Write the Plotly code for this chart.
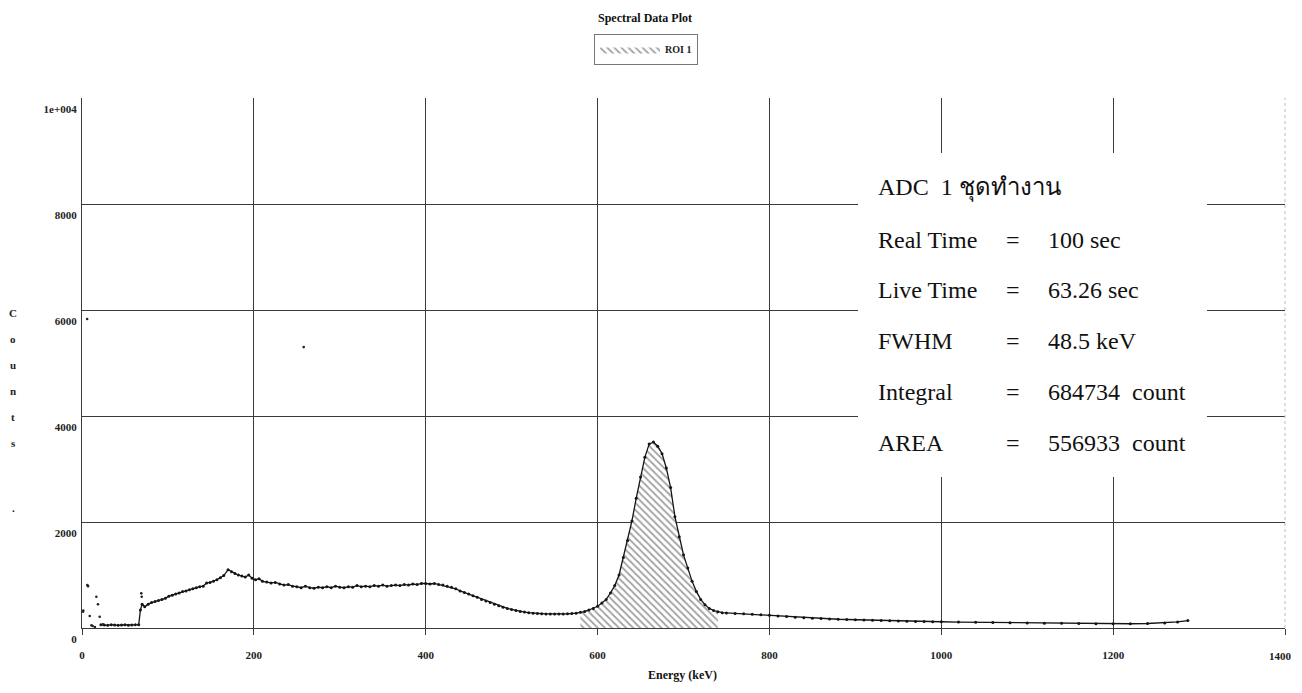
import plotly.graph_objects as go

# ---------------- data ----------------
energy_kev = [22, 26, 30, 34, 38, 42, 46, 50, 54, 58, 62, 66,
              68, 70, 73, 77, 81, 85, 89, 93, 97, 101, 105, 109, 113, 117, 121, 125,
              129, 133, 137, 141, 145, 149, 153, 157, 161, 165, 170, 174, 178, 182,
              186, 190, 194, 198, 202, 206, 210, 215, 220, 225, 230, 235, 240, 245,
              250, 255, 260, 265, 270, 275, 280, 285, 290, 295, 300, 305, 310, 315,
              320, 325, 330, 335, 340, 345, 350, 355, 360, 365, 370, 375, 380, 385,
              390, 395, 400, 405, 410, 415, 420, 425, 430, 435, 440, 445, 450, 455,
              460, 465, 470, 475, 480, 485, 490, 495, 500, 505, 510, 515, 520, 525,
              530, 535, 540, 545, 550, 555, 560, 565, 570, 575, 580, 585, 590, 595,
              600, 605, 610, 615, 620, 625, 630, 635, 640, 645, 650, 655, 660, 665,
              670, 675, 680, 685, 690, 695, 700, 705, 710, 715, 720, 725, 730, 735,
              740, 745, 750, 760, 770, 780, 790, 800, 810, 820, 830, 840, 850, 860,
              870, 880, 890, 900, 910, 920, 930, 940, 950, 960, 970, 980, 990, 1000,
              1020, 1040, 1060, 1080, 1100, 1120, 1140, 1160, 1180, 1200, 1220, 1240,
              1260, 1275, 1287]
counts = [60, 55, 50, 62, 55, 50, 57, 60, 50, 56, 60, 62,
          340, 450, 400, 450, 480, 500, 520, 540, 560, 600, 620, 640, 660, 690, 700, 720,
          740, 760, 780, 790, 850, 860, 880, 910, 950, 990, 1100, 1060, 1030, 1000,
          980, 960, 1000, 940, 910, 930, 880, 870, 850, 860, 830, 810, 820, 790,
          780, 760, 790, 760, 750, 770, 760, 780, 760, 790, 770, 760, 780, 770,
          800, 780, 790, 780, 800, 790, 810, 790, 800, 810, 800, 820, 810, 830,
          820, 840, 840, 830, 840, 820, 810, 790, 770, 740, 700, 670, 640, 610,
          580, 540, 510, 480, 450, 420, 390, 370, 350, 330, 310, 300, 290, 280,
          275, 270, 265, 262, 262, 263, 265, 268, 272, 280, 295, 310, 340, 370,
          410, 470, 540, 660, 800, 1000, 1330, 1650, 2020, 2450, 2850, 3220, 3470, 3510,
          3430, 3290, 3020, 2650, 2100, 1720, 1380, 1130, 880, 690, 540, 440, 370, 330,
          305, 290, 285, 275, 268, 258, 248, 240, 228, 218, 205, 192, 186, 180,
          172, 165, 160, 155, 150, 145, 140, 136, 132, 128, 125, 122, 120, 118,
          112, 108, 102, 97, 94, 90, 88, 85, 82, 80, 80, 85,
          95, 115, 140]

# isolated points at very low energy and stray dots
stray_energy = [1.2, 1.5, 6.2, 7, 9, 11, 12.4, 15, 16.7, 18.6, 20.6, 24.5, 69, 69.5, 6, 258]
stray_counts = [308, 330, 811, 790, 226, 51, 38, 19, 591, 447, 213, 70, 654, 590, 5830, 5300]

roi_start, roi_end = 580, 740
roi_name = "ROI 1"

x_ticks = [0, 200, 400, 600, 800, 1000, 1200, 1400]
y_ticks = [0, 2000, 4000, 6000, 8000, 10000]
y_tick_text = ["0", "2000", "4000", "6000", "8000", "1e+004"]

info_labels = ["ADC  1 ชุดทำงาน", "Real Time", "Live Time", "FWHM", "Integral", "AREA"]
info_values = ["", "100 sec", "63.26 sec", "48.5 keV", "684734  count", "556933  count"]

y_title_letters = ["C", "o", "u", "n", "t", "s"]

# ---------------- layout geometry helpers ----------------
BODY = 8                       # default page margin around the plot div
W, H = 1302 - 2 * BODY, 693 - 2 * BODY
PLOT_LEFT, PLOT_RIGHT, PLOT_TOP, PLOT_BOTTOM = 82, 1285, 98, 628   # absolute page px
L = PLOT_LEFT - BODY
T = PLOT_TOP - BODY
PW = PLOT_RIGHT - PLOT_LEFT
PH = PLOT_BOTTOM - PLOT_TOP
R = W - L - PW
B = H - T - PH


def px_x(px):
    return (px - PLOT_LEFT) / PW


def px_y(py):
    return (PLOT_BOTTOM - py) / PH


SERIF = "Liberation Serif, Times New Roman, serif"
GRID = "#3a3a3a"
TICKFONT = dict(family=SERIF, size=11, color="#222", weight="bold")

roi_x = [e for e in energy_kev if roi_start <= e <= roi_end]
roi_y = [c for e, c in zip(energy_kev, counts) if roi_start <= e <= roi_end]

# last x tick label sits on the page edge: it is written as an annotation
# (right-aligned) so that it is not hidden and does not widen the page
x_tick_text = [str(v) for v in x_ticks[:-1]] + [""]

fig = go.Figure()

fig.add_trace(go.Scatter(
    x=roi_x, y=roi_y, mode="lines", name=roi_name,
    fill="tozeroy", line=dict(width=0, color="#555"),
    fillcolor="white",
    fillpattern=dict(shape="\\", fgcolor="#444", bgcolor="white", size=5, solidity=0.35),
    showlegend=True,
))

fig.add_trace(go.Scatter(
    x=energy_kev, y=counts, mode="lines+markers",
    line=dict(color="#151515", width=1.3),
    marker=dict(color="#151515", size=3),
    showlegend=False, name="Spectrum",
))

fig.add_trace(go.Scatter(
    x=stray_energy, y=stray_counts, mode="markers",
    marker=dict(color="#222", size=2.6),
    showlegend=False, name="stray",
))

fig.update_xaxes(
    range=[0, 1400], tickvals=x_ticks, ticktext=x_tick_text,
    showgrid=True, gridcolor=GRID, gridwidth=1.1,
    zeroline=False, showline=True, linecolor=GRID, linewidth=1.1,
    ticks="outside", ticklen=6, tickcolor=GRID, tickwidth=1.1,
    ticklabelstandoff=11,
    tickfont=TICKFONT,
    title=None, fixedrange=True,
)
fig.update_yaxes(
    range=[0, 10000], tickvals=y_ticks, ticktext=y_tick_text,
    showgrid=True, gridcolor=GRID, gridwidth=1.1,
    zeroline=False, showline=True, linecolor=GRID, linewidth=1.1,
    ticks="", ticklabelshift=11, ticklabelstandoff=2,
    tickfont=TICKFONT,
    title=None, fixedrange=True,
)

shapes = [
    # white box behind the measurement text
    dict(type="rect", xref="paper", yref="paper",
         x0=px_x(858), x1=px_x(1207), y0=px_y(477), y1=px_y(153),
         fillcolor="white", line=dict(width=0), layer="above"),
    # faint dashed right border
    dict(type="line", xref="paper", yref="paper", x0=1, x1=1, y0=0, y1=1,
         line=dict(color="#bbbbbb", width=1, dash="dot"), layer="above"),
]

annotations = []
row_y = [188, 240, 290, 341, 392, 443]
TXT = dict(family=SERIF, size=24, color="#111")
for lab, val, ry in zip(info_labels, info_values, row_y):
    annotations.append(dict(text=lab, xref="paper", yref="paper", x=px_x(876), y=px_y(ry),
                            xanchor="left", yanchor="middle", showarrow=False, font=TXT))
    if val:
        annotations.append(dict(text="=", xref="paper", yref="paper", x=px_x(1013), y=px_y(ry),
                                xanchor="center", yanchor="middle", showarrow=False, font=TXT))
        annotations.append(dict(text=val, xref="paper", yref="paper", x=px_x(1046), y=px_y(ry),
                                xanchor="left", yanchor="middle", showarrow=False, font=TXT))

# last x tick label ("1400"), right-aligned at the page edge like the reference
annotations.append(dict(text=str(x_ticks[-1]), xref="x", yref="paper", x=x_ticks[-1],
                        y=px_y(656), xanchor="right", yanchor="middle", xshift=9,
                        showarrow=False, font=TICKFONT))

LBL = dict(family=SERIF, size=11, color="#222", weight="bold")
for i, ch in enumerate(y_title_letters):
    annotations.append(dict(text=ch, xref="paper", yref="paper", x=px_x(13), y=px_y(313 + 26 * i),
                            xanchor="center", yanchor="middle", showarrow=False, font=LBL))
annotations.append(dict(text=".", xref="paper", yref="paper", x=px_x(13), y=px_y(508),
                        xanchor="center", yanchor="middle", showarrow=False, font=LBL))

# chart title and x-axis title
annotations.append(dict(text="Spectral Data Plot", xref="paper", yref="paper",
                        x=px_x(645), y=px_y(18), xanchor="center", yanchor="middle",
                        showarrow=False, font=dict(family=SERIF, size=12, color="#111", weight="bold")))
annotations.append(dict(text="Energy (keV)", xref="paper", yref="paper",
                        x=px_x(682), y=px_y(675), xanchor="center", yanchor="middle",
                        showarrow=False, font=dict(family=SERIF, size=12, color="#111", weight="bold")))

fig.update_layout(
    width=W, height=H, autosize=False,
    margin=dict(l=L, r=R, t=T, b=B),
    paper_bgcolor="white", plot_bgcolor="white",
    shapes=shapes, annotations=annotations,
    showlegend=True,
    legend=dict(x=px_x(646), y=px_y(34), xanchor="center", yanchor="top",
                bordercolor="#777", borderwidth=1, bgcolor="white",
                font=dict(family=SERIF, size=10, color="#222", weight="bold"),
                itemwidth=60),
)

fig.write_html("out.html")
